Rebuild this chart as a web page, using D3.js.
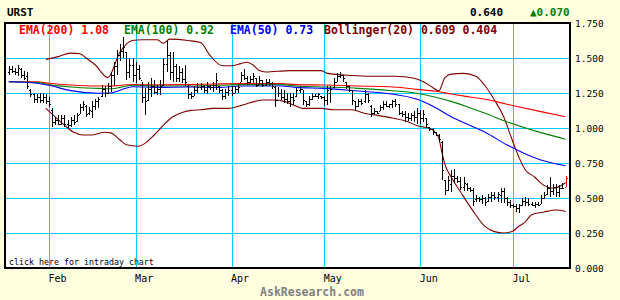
<!DOCTYPE html>
<html>
<head>
<meta charset="utf-8">
<script src="https://cdn.jsdelivr.net/npm/d3@7"></script>
<style>
  body { margin: 0; background: #ffffe0; }
  svg { display: block; }
</style>
</head>
<body>
<div id="vis-container"></div>
<script>
// daily bars, one per calendar day starting here
const year = 2011;
const firstDay = "2011-01-19";

const highs = [
  1.44,1.44,1.43,1.45,1.43,1.41,1.40,1.28,1.25,1.24,1.25,1.25,1.24,
  1.22,1.14,1.08,1.09,1.09,1.09,1.06,1.08,1.09,1.11,1.17,1.19,1.165,1.15,1.19,1.21,1.225,1.31,1.30,1.32,1.40,1.47,1.56,1.60,1.65,1.545,1.50,1.50,
  1.47,1.45,1.33,1.285,1.33,1.355,1.34,1.31,1.34,1.50,1.62,1.545,1.545,1.46,1.44,1.43,1.45,1.31,1.26,1.30,1.32,1.32,1.31,1.33,1.31,1.33,1.39,1.30,1.28,1.28,1.30,
  1.30,1.30,1.31,1.40,1.42,1.37,1.37,1.39,1.36,1.37,1.34,1.35,1.35,1.33,1.30,1.29,1.28,1.27,1.25,1.25,1.25,1.285,1.30,1.27,1.19,1.23,1.25,1.24,1.25,1.23,
  1.23,1.30,1.30,1.355,1.39,1.40,1.38,1.33,1.30,1.27,1.19,1.21,1.21,1.27,1.25,1.165,1.14,1.12,1.165,1.19,1.19,1.175,1.20,1.205,1.175,1.12,1.12,1.11,1.11,1.12,1.14,
  1.13,1.13,1.07,1.01,1.00,0.97,0.96,0.91,0.63,0.66,0.70,0.71,0.66,0.65,0.65,0.61,0.58,0.57,0.52,0.51,0.52,0.51,0.53,0.54,0.54,0.54,0.57,0.57,0.51,0.486,
  0.46,0.46,0.46,0.50,0.51,0.50,0.475,0.475,0.475,0.52,0.54,0.59,0.65,0.60,0.60,0.59,0.61,0.66
];
const lows = [
  1.38,1.39,1.38,1.37,1.36,1.34,1.28,1.22,1.18,1.18,1.18,1.18,1.17,
  1.15,1.01,1.02,1.02,1.02,1.01,1.00,1.01,1.02,1.045,1.10,1.12,1.08,1.09,1.07,1.13,1.14,1.225,1.225,1.24,1.26,1.30,1.38,1.48,1.50,1.34,1.36,1.33,
  1.32,1.34,1.18,1.09,1.19,1.225,1.24,1.235,1.235,1.30,1.40,1.34,1.33,1.33,1.33,1.32,1.30,1.21,1.21,1.23,1.25,1.27,1.25,1.24,1.27,1.26,1.27,1.25,1.20,1.21,1.23,
  1.23,1.25,1.25,1.33,1.34,1.31,1.32,1.32,1.29,1.31,1.29,1.30,1.30,1.28,1.15,1.22,1.20,1.18,1.17,1.15,1.165,1.225,1.25,1.165,1.15,1.16,1.20,1.22,1.21,1.21,
  1.16,1.165,1.18,1.285,1.33,1.355,1.33,1.28,1.26,1.165,1.13,1.15,1.165,1.18,1.18,1.08,1.09,1.10,1.12,1.13,1.15,1.14,1.14,1.15,1.09,1.08,1.045,1.05,1.05,1.045,1.03,
  1.03,1.045,1.00,0.98,0.95,0.94,0.90,0.63,0.52,0.55,0.545,0.605,0.61,0.56,0.55,0.55,0.545,0.44,0.475,0.475,0.46,0.44,0.475,0.475,0.486,0.475,0.465,0.465,0.44,0.43,
  0.43,0.40,0.39,0.44,0.44,0.44,0.44,0.43,0.44,0.46,0.49,0.52,0.51,0.52,0.51,0.51,0.565,0.58
];
const opens = [
  1.40,1.42,1.41,1.40,1.42,1.38,1.37,1.27,1.24,1.21,1.22,1.20,1.22,
  1.19,1.13,1.04,1.06,1.03,1.07,1.03,1.02,1.06,1.05,1.10,1.15,1.16,1.11,1.12,1.16,1.19,1.23,1.28,1.25,1.30,1.38,1.44,1.52,1.55,1.54,1.40,1.45,
  1.38,1.42,1.34,1.22,1.20,1.28,1.30,1.26,1.28,1.31,1.46,1.52,1.40,1.44,1.36,1.40,1.35,1.30,1.24,1.23,1.27,1.29,1.30,1.27,1.30,1.29,1.31,1.30,1.27,1.23,1.26,
  1.27,1.25,1.28,1.33,1.38,1.36,1.33,1.35,1.36,1.31,1.34,1.31,1.33,1.32,1.29,1.20,1.25,1.22,1.21,1.19,1.22,1.23,1.27,1.28,1.19,1.17,1.21,1.23,1.23,1.23,
  1.22,1.20,1.25,1.29,1.33,1.37,1.38,1.33,1.30,1.27,1.19,1.16,1.19,1.19,1.24,1.16,1.11,1.12,1.12,1.15,1.17,1.16,1.17,1.19,1.17,1.11,1.10,1.08,1.07,1.09,1.08,
  1.11,1.07,1.07,1.01,0.99,0.97,0.95,0.90,0.63,0.56,0.60,0.66,0.64,0.62,0.58,0.60,0.57,0.56,0.49,0.50,0.49,0.50,0.48,0.51,0.52,0.51,0.52,0.55,0.50,0.47,
  0.45,0.44,0.43,0.45,0.48,0.47,0.46,0.45,0.46,0.46,0.50,0.53,0.57,0.55,0.58,0.54,0.57,0.58
];
const closes = [
  1.42,1.41,1.40,1.43,1.38,1.36,1.30,1.24,1.21,1.22,1.20,1.22,1.19,
  1.17,1.04,1.06,1.03,1.07,1.03,1.02,1.06,1.04,1.09,1.15,1.17,1.10,1.13,1.16,1.19,1.21,1.28,1.25,1.30,1.38,1.44,1.52,1.55,1.58,1.40,1.45,1.38,
  1.42,1.36,1.22,1.19,1.28,1.30,1.26,1.28,1.30,1.46,1.52,1.40,1.44,1.36,1.40,1.35,1.33,1.24,1.23,1.27,1.29,1.30,1.27,1.30,1.29,1.31,1.34,1.27,1.23,1.26,1.27,
  1.25,1.28,1.29,1.38,1.36,1.33,1.35,1.37,1.31,1.34,1.31,1.33,1.32,1.30,1.20,1.25,1.22,1.21,1.19,1.22,1.20,1.27,1.28,1.20,1.17,1.21,1.23,1.23,1.24,1.22,
  1.20,1.27,1.28,1.33,1.37,1.38,1.36,1.30,1.27,1.20,1.16,1.19,1.18,1.24,1.20,1.11,1.12,1.11,1.15,1.17,1.16,1.17,1.19,1.17,1.11,1.10,1.08,1.07,1.09,1.08,1.11,
  1.07,1.10,1.03,0.99,0.97,0.95,0.92,0.70,0.56,0.63,0.66,0.64,0.62,0.58,0.61,0.57,0.56,0.48,0.50,0.49,0.50,0.47,0.51,0.52,0.51,0.53,0.55,0.50,0.47,0.45,
  0.44,0.43,0.45,0.48,0.47,0.46,0.45,0.46,0.45,0.50,0.52,0.57,0.55,0.58,0.54,0.57,0.57,0.64
];

// moving averages
const emaDates = ["01-19","01-28","02-01","02-08","02-17","02-21","02-24","02-28","03-08","03-18","03-28",
                  "04-04","04-17","04-22","05-01","05-12","05-22","05-31","06-06","06-11","06-17","06-22","06-29","07-10","07-18"];
const ema200 = [1.33,1.33,1.32,1.307,1.30,1.30,1.305,1.31,1.308,1.31,1.315,
                1.317,1.317,1.31,1.307,1.30,1.295,1.276,1.262,1.243,1.222,1.205,1.17,1.117,1.08];
const ema100 = [1.33,1.325,1.31,1.293,1.283,1.28,1.29,1.305,1.30,1.30,1.305,
                1.31,1.31,1.30,1.293,1.283,1.268,1.248,1.22,1.19,1.145,1.105,1.045,0.967,0.92];
const ema50  = [1.33,1.32,1.305,1.267,1.248,1.25,1.27,1.295,1.29,1.293,1.29,
                1.30,1.30,1.29,1.283,1.264,1.245,1.205,1.145,1.08,1.02,0.97,0.88,0.771,0.73];

// bollinger bands
const upperDates = ["01-31","02-04","02-08","02-11","02-13","02-16","02-20","02-24","02-28","03-03","03-08","03-10",
                    "03-12","03-18","03-22","03-25","03-29","04-01","04-04","04-06","04-08","04-10","04-12","04-20",
                    "04-30","05-02","05-10","05-16","05-24","05-30","06-02","06-05","06-07","06-09","06-11","06-15",
                    "06-19","06-22","06-25","06-28","06-30","07-02","07-05","07-08","07-11","07-14","07-18"];
const upperBand = [1.49,1.51,1.535,1.53,1.50,1.45,1.36,1.545,1.625,1.63,1.63,1.605,
                   1.635,1.625,1.61,1.52,1.445,1.445,1.46,1.47,1.45,1.41,1.40,1.41,
                   1.41,1.39,1.375,1.37,1.37,1.355,1.33,1.29,1.265,1.36,1.385,1.39,
                   1.37,1.30,1.20,1.08,0.96,0.84,0.70,0.65,0.59,0.57,0.609];
const lowerDates = ["01-31","02-03","02-06","02-09","02-12","02-15","02-19","02-21","02-24","02-26","03-02","03-04",
                    "03-07","03-10","03-13","03-16","03-19","03-22","03-26","03-31","04-04","04-07","04-11","04-15",
                    "04-18","04-21","04-24","04-30","05-04","05-10","05-14","05-18","05-22","05-28","05-31","06-04",
                    "06-06","06-07","06-08","06-09","06-11","06-14","06-18","06-22","06-25","06-28","07-01","07-03",
                    "07-05","07-07","07-11","07-15","07-18"];
const lowerBand = [1.14,1.08,1.02,0.97,0.95,0.95,0.97,0.965,0.914,0.88,0.87,0.89,
                   0.95,1.02,1.08,1.11,1.126,1.13,1.14,1.14,1.16,1.18,1.20,1.20,
                   1.19,1.165,1.14,1.14,1.13,1.13,1.105,1.09,1.076,1.045,1.016,0.998,
                   0.965,0.93,0.83,0.74,0.65,0.545,0.41,0.295,0.26,0.25,0.265,0.30,
                   0.33,0.38,0.40,0.414,0.404];

const yTicks = [0, 0.25, 0.5, 0.75, 1.0, 1.25, 1.5, 1.75];
const symbol = "URST";

const width = 620;
const height = 300;
const plot = { left: 5, top: 23, right: 570, bottom: 268 };

const parseDay = d3.timeParse("%Y-%m-%d");
const start = parseDay(firstDay);
const md = (s) => parseDay(year + "-" + s);

const bars = highs.map((h, i) => ({
  date: d3.timeDay.offset(start, i),
  high: h, low: lows[i], open: opens[i], close: closes[i]
}));

const svg = d3.select("#vis-container")
  .append("svg")
  .attr("width", width)
  .attr("height", height)
  .style("font-family", "'DejaVu Sans Mono', 'Liberation Mono', monospace");

svg.append("rect").attr("width", width).attr("height", height).attr("fill", "#ffffe0");

// scales: the month grid is calendar based
const x = d3.scaleTime()
  .domain([new Date(year, 1, 1), new Date(year, 6, 1)])
  .range([49, 513]);
const y = d3.scaleLinear()
  .domain([0, 1.75])
  .range([plot.bottom, plot.top]);

svg.append("rect")
  .attr("x", plot.left).attr("y", plot.top)
  .attr("width", plot.right - plot.left).attr("height", plot.bottom - plot.top)
  .attr("fill", "white");

// grid
const months = d3.timeMonth.range(new Date(year, 1, 1), new Date(year, 6, 2));
svg.append("g")
  .selectAll("line")
  .data(months)
  .join("line")
  .attr("x1", d => Math.round(x(d)) + 0.5).attr("x2", d => Math.round(x(d)) + 0.5)
  .attr("y1", plot.top).attr("y2", plot.bottom)
  .attr("stroke", "#00ccff");
svg.append("g")
  .selectAll("line")
  .data(yTicks.slice(1, -1))
  .join("line")
  .attr("x1", plot.left).attr("x2", plot.right)
  .attr("y1", d => Math.round(y(d)) + 0.5).attr("y2", d => Math.round(y(d)) + 0.5)
  .attr("stroke", "#00ccff");

// lines
function drawLine(dates, values, color) {
  const pts = dates.map((s, i) => ({ date: md(s), v: values[i] }));
  svg.append("path")
    .datum(pts)
    .attr("fill", "none")
    .attr("stroke", color)
    .attr("stroke-width", 1.1)
    .attr("d", d3.line().curve(d3.curveMonotoneX).x(d => x(d.date)).y(d => y(d.v)));
}
drawLine(upperDates, upperBand, "#800000");
drawLine(lowerDates, lowerBand, "#800000");
drawLine(emaDates, ema200, "#ff0000");
drawLine(emaDates, ema100, "#008000");
drawLine(emaDates, ema50, "#0000ff");

// OHLC bars
const bar = svg.append("g")
  .attr("shape-rendering", "crispEdges")
  .selectAll("g")
  .data(bars)
  .join("g")
  .attr("stroke", (d, i) => i === bars.length - 1 ? "#ff0000" : "black");
bar.append("line")
  .attr("x1", d => Math.round(x(d.date)) + 0.5).attr("x2", d => Math.round(x(d.date)) + 0.5)
  .attr("y1", d => y(d.high)).attr("y2", d => y(d.low));
bar.append("line")
  .attr("x1", d => Math.round(x(d.date)) - 1).attr("x2", d => Math.round(x(d.date)))
  .attr("y1", d => Math.round(y(d.open)) + 0.5).attr("y2", d => Math.round(y(d.open)) + 0.5);
bar.append("line")
  .attr("x1", d => Math.round(x(d.date)) + 1).attr("x2", d => Math.round(x(d.date)) + 2)
  .attr("y1", d => Math.round(y(d.close)) + 0.5).attr("y2", d => Math.round(y(d.close)) + 0.5);

// frame
svg.append("rect")
  .attr("x", plot.left).attr("y", plot.top)
  .attr("width", plot.right - plot.left).attr("height", plot.bottom - plot.top)
  .attr("fill", "none").attr("stroke", "black").attr("stroke-width", 2);

// right axis
svg.append("g")
  .attr("transform", `translate(${plot.right},0)`)
  .call(d3.axisRight(y).tickValues(yTicks).tickFormat(d3.format(".3f")).tickSize(0).tickPadding(5))
  .call(g => g.select(".domain").remove())
  .call(g => g.selectAll("text")
    .attr("font-family", "'DejaVu Sans Mono', monospace")
    .attr("font-size", "9.5px").attr("fill", "black"));

// month axis
svg.append("g")
  .attr("transform", `translate(0,${plot.bottom})`)
  .call(d3.axisBottom(x).tickValues(months).tickFormat(d3.timeFormat("%b")).tickSize(0))
  .call(g => g.select(".domain").remove())
  .call(g => g.selectAll("text")
    .attr("font-family", "'DejaVu Sans Mono', monospace")
    .attr("font-size", "10px").attr("fill", "black")
    .attr("text-anchor", "start").attr("dx", -1).attr("y", 6.5));

// header
const lastClose = closes[closes.length - 1];
const change = lastClose - closes[closes.length - 2];
svg.append("text").attr("x", 7).attr("y", 16)
  .attr("font-size", "11px").attr("font-weight", "bold").text(symbol);
svg.append("text").attr("x", 470).attr("y", 16)
  .attr("font-size", "11px").attr("font-weight", "bold").text(d3.format(".3f")(lastClose));
svg.append("text").attr("x", 530).attr("y", 16)
  .attr("font-size", "11px").attr("font-weight", "bold").attr("fill", "#008000")
  .text((change >= 0 ? "\u25B2" : "\u25BC") + d3.format(".3f")(Math.abs(change)));

// legend
const f2 = d3.format(".2f"), f3 = d3.format(".3f");
const legend = [
  { x: 19, color: "#ff0000", text: "EMA(200) " + f2(ema200[ema200.length - 1]) },
  { x: 124, color: "#008000", text: "EMA(100) " + f2(ema100[ema100.length - 1]) },
  { x: 230, color: "#0000ff", text: "EMA(50) " + f2(ema50[ema50.length - 1]) },
  { x: 324, color: "#800000", text: "Bollinger(20) " + f3(upperBand[upperBand.length - 1]) + " " + f3(lowerBand[lowerBand.length - 1]) }
];
svg.append("g").selectAll("text")
  .data(legend)
  .join("text")
  .attr("x", d => d.x).attr("y", 34)
  .attr("font-size", "11.5px").attr("font-weight", "bold")
  .attr("fill", d => d.color)
  .text(d => d.text);

svg.append("text").attr("x", 9).attr("y", 265)
  .attr("font-size", "8.3px").text("click here for intraday chart");

svg.append("text").attr("x", 312).attr("y", 296)
  .attr("text-anchor", "middle")
  .attr("font-size", "11.5px").attr("font-weight", "bold").attr("fill", "#808080")
  .text("AskResearch.com");
</script>
</body>
</html>
